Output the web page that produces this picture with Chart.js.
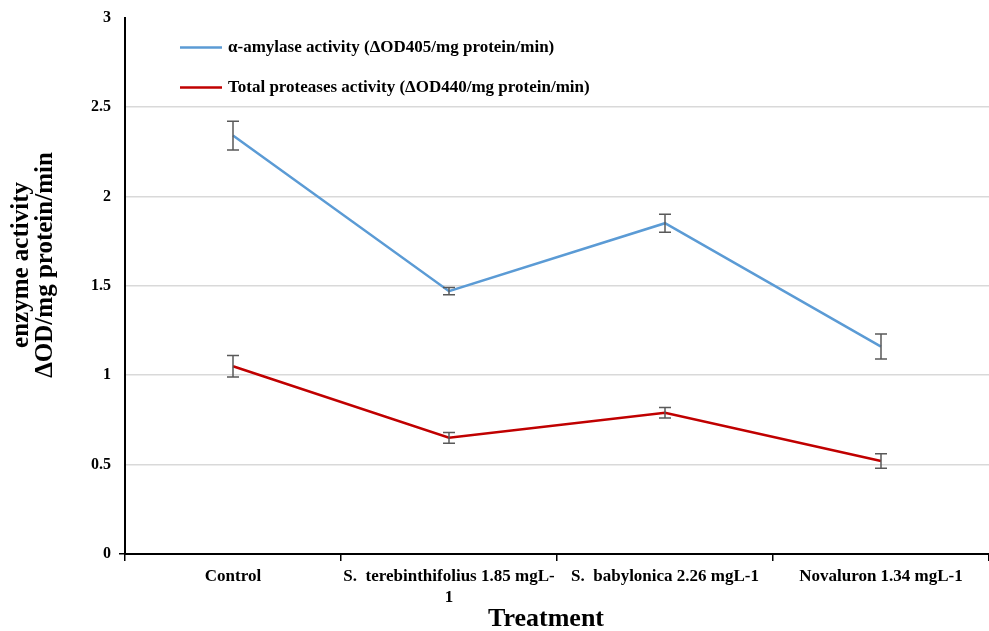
<!DOCTYPE html>
<html>
<head>
<meta charset="utf-8">
<script src="https://cdn.jsdelivr.net/npm/chart.js@4"></script>
<style>
  body { margin: 0; background: #fff; }
  #wrap { width: 989px; height: 631px; position: relative; }
</style>
</head>
<body>
<div id="wrap"><canvas id="myChart"></canvas></div>
<script>
const treatments = ['Control', ['S.  terebinthifolius 1.85 mgL-', '1'], 'S.  babylonica 2.26 mgL-1', 'Novaluron 1.34 mgL-1'];
const amylase = [2.34, 1.47, 1.85, 1.16];
const amylaseErr = [0.08, 0.02, 0.05, 0.07];
const proteases = [1.05, 0.65, 0.79, 0.52];
const proteasesErr = [0.06, 0.03, 0.03, 0.04];
const yMax = 3;
const yStep = 0.5;
const xTitle = 'Treatment';
const yTitle = ['enzyme activity', 'ΔOD/mg protein/min'];

const serif = '"Liberation Serif", "Times New Roman", serif';

// error bars drawn through the y scale
const errorBars = {
    id: 'errorBars',
    afterDatasetsDraw(chart) {
        const ctx = chart.ctx;
        const y = chart.scales.y;
        chart.data.datasets.forEach((ds, i) => {
            const meta = chart.getDatasetMeta(i);
            meta.data.forEach((pt, j) => {
                const v = ds.data[j];
                const e = ds.errors[j];
                const top = y.getPixelForValue(v + e);
                const bot = y.getPixelForValue(v - e);
                ctx.save();
                ctx.strokeStyle = '#595959';
                ctx.lineWidth = 1.5;
                ctx.beginPath();
                ctx.moveTo(pt.x, top); ctx.lineTo(pt.x, bot);
                ctx.moveTo(pt.x - 6, top); ctx.lineTo(pt.x + 6, top);
                ctx.moveTo(pt.x - 6, bot); ctx.lineTo(pt.x + 6, bot);
                ctx.stroke();
                ctx.restore();
            });
        });
    }
};

// legend inside the plot, top left
const innerLegend = {
    id: 'innerLegend',
    afterDraw(chart) {
        const ctx = chart.ctx;
        const x0 = chart.chartArea.left + 55;
        chart.data.datasets.forEach((ds, i) => {
            const yy = chart.chartArea.top + 30 + i * 40;
            ctx.save();
            ctx.strokeStyle = ds.borderColor;
            ctx.lineWidth = 2.5;
            ctx.beginPath();
            ctx.moveTo(x0, yy); ctx.lineTo(x0 + 42, yy);
            ctx.stroke();
            ctx.fillStyle = '#000';
            ctx.font = 'bold 17px ' + serif;
            ctx.textBaseline = 'middle';
            ctx.fillText(ds.label, x0 + 48, yy);
            ctx.restore();
        });
    }
};

// axis titles (placed like the original, slightly off centre)
const axisTitles = {
    id: 'axisTitles',
    afterDraw(chart) {
        const ctx = chart.ctx;
        ctx.save();
        ctx.fillStyle = '#000';
        ctx.textAlign = 'center';
        ctx.textBaseline = 'middle';
        ctx.font = 'bold 26px ' + serif;
        ctx.fillText(xTitle, 546, 619);
        ctx.font = 'bold 25px ' + serif;
        ctx.translate(0, 265);
        ctx.rotate(-Math.PI / 2);
        yTitle.forEach((t, i) => ctx.fillText(t, 0, 22 + i * 24));
        ctx.restore();
    }
};

const ctx = document.getElementById('myChart').getContext('2d');
const myChart = new Chart(ctx, {
    type: 'line',
    data: {
        labels: treatments,
        datasets: [{
            label: 'α-amylase activity (ΔOD405/mg protein/min)',
            data: amylase,
            errors: amylaseErr,
            borderColor: '#5B9BD5',
            borderWidth: 2.5,
            pointRadius: 0,
            tension: 0
        }, {
            label: 'Total proteases activity (ΔOD440/mg protein/min)',
            data: proteases,
            errors: proteasesErr,
            borderColor: '#C00000',
            borderWidth: 2.5,
            pointRadius: 0,
            tension: 0
        }]
    },
    options: {
        responsive: true,
        maintainAspectRatio: false,
        animation: false,
        layout: { padding: { top: 16, right: 0, left: 0, bottom: 0 } },
        plugins: {
            legend: { display: false },
            tooltip: { enabled: false }
        },
        scales: {
            x: {
                offset: true,
                grid: {
                    offset: true,
                    drawOnChartArea: false,
                    color: '#000',
                    tickLength: 7,
                    lineWidth: 1.5
                },
                border: { color: '#000', width: 2 },
                ticks: {
                    color: '#000',
                    maxRotation: 0,
                    autoSkip: false,
                    padding: 5,
                    font: { family: serif, size: 17, weight: 'bold', lineHeight: 1.25 }
                },
                afterFit(scale) { scale.height = 77; }
            },
            y: {
                min: 0,
                max: yMax,
                ticks: {
                    stepSize: yStep,
                    color: '#000',
                    padding: 8,
                    font: { family: serif, size: 16, weight: 'bold' },
                    callback: v => String(v)
                },
                grid: {
                    color: c => c.tick && c.tick.value === yMax ? 'rgba(0,0,0,0)' : '#d9d9d9',
                    tickColor: c => c.tick && c.tick.value === 0 ? '#000' : 'rgba(0,0,0,0)',
                    tickLength: 6,
                    lineWidth: 1.5
                },
                border: { color: '#000', width: 2 },
                afterFit(scale) { scale.width = 125; }
            }
        }
    },
    plugins: [errorBars, innerLegend, axisTitles]
});
</script>
</body>
</html>
